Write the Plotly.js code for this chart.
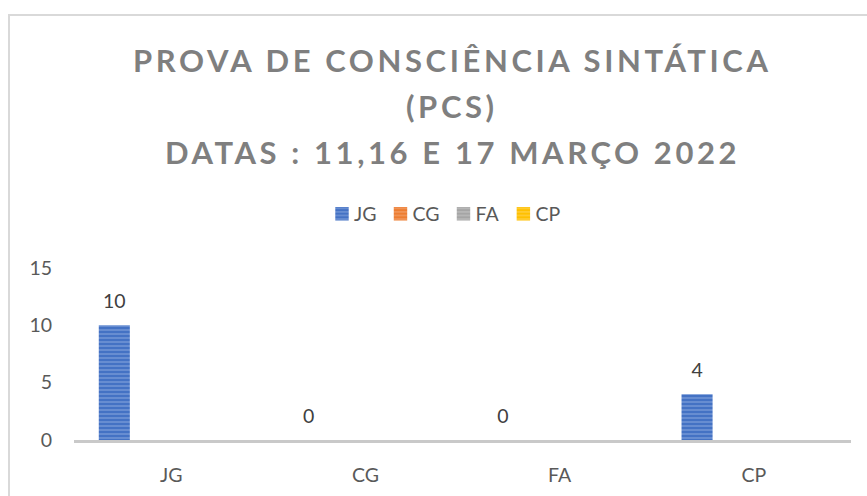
<!DOCTYPE html>
<html>
<head>
<meta charset="utf-8">
<script src="https://cdn.plot.ly/plotly-3.0.1.min.js"></script>
<style>
  html, body { margin: 0; padding: 0; background: #ffffff; overflow: hidden; }
  #wrap { position: relative; width: 867px; height: 496px; }
  #chart { position: absolute; left: 0; top: 0; width: 867px; height: 496px; }
  #frame { position: absolute; left: 8px; top: 14px; width: 900px; height: 520px;
           border: 2px solid #d9d9d9; pointer-events: none; box-sizing: border-box; }
  .annotation-text { letter-spacing: 3.6px; }
</style>
</head>
<body>
<div id="wrap">
  <div id="chart"></div>
  <div id="frame"></div>
</div>
<script>
// ---- data ----
const categories = ['JG', 'CG', 'FA', 'CP'];
const seriesNames = ['JG', 'CG', 'FA', 'CP'];
const valuesJG = [10, 0, 0, 4];
const valuesCG = [null, null, null, null];
const valuesFA = [null, null, null, null];
const valuesCP = [null, null, null, null];
const titleLines = ['PROVA DE CONSCIÊNCIA SINTÁTICA', '(PCS)', 'DATAS : 11,16 E 17 MARÇO 2022'];
const yTicks = [0, 5, 10, 15];

// ---- styling ----
const seriesValues = [valuesJG, valuesCG, valuesFA, valuesCP];
const colors = ['#4472C4', '#ED7D31', '#A5A5A5', '#FFC000'];
const stripe = ['#a9bfe8', '#f7bd96', '#d6d6d6', '#ffe08a'];
const FONT = 'Lato, "Open Sans", sans-serif';

const traces = seriesNames.map((name, i) => ({
  type: 'bar',
  name: name,
  x: categories,
  y: seriesValues[i],
  text: seriesValues[i].map(v => v === null ? '' : String(v)),
  textposition: 'outside',
  textfont: { family: FONT, size: 19.5, color: '#404040' },
  cliponaxis: false,
  marker: {
    color: colors[i],
    line: { width: 0 },
    pattern: { shape: '-', fillmode: 'overlay', fgcolor: stripe[i], size: 4, solidity: 0.35 }
  },
  hoverinfo: 'skip'
}));

// plot area geometry
const L = 74, R = 16, T = 268, B = 56, H = 496, W = 867;
const plotH = H - T - B, plotW = W - L - R;
const toPaperY = py => (H - B - py) / plotH;
const toPaperX = px => (px - L) / plotW;
const lineCentersPx = [60, 106, 152];

const annotations = titleLines.map((t, i) => ({
  text: '<b>' + t + '</b>',
  xref: 'paper', yref: 'paper',
  x: toPaperX(452), y: toPaperY(lineCentersPx[i]),
  xanchor: 'center', yanchor: 'middle',
  showarrow: false,
  font: { family: FONT, size: 31, color: '#7f7f7f' }
}));

const layout = {
  width: W, height: H,
  margin: { l: L, r: R, t: T, b: B, pad: 0 },
  paper_bgcolor: '#ffffff',
  plot_bgcolor: '#ffffff',
  barmode: 'group',
  bargap: 0.22,
  bargroupgap: 0.18,
  showlegend: true,
  legend: {
    orientation: 'h',
    xref: 'container', yref: 'container',
    x: 449 / W, y: 1 - 214 / H,
    xanchor: 'center', yanchor: 'middle',
    font: { family: FONT, size: 19.5, color: '#595959' },
    itemwidth: 30,
    tracegroupgap: 0,
    traceorder: 'normal',
    itemclick: false
  },
  xaxis: {
    type: 'category',
    showgrid: false,
    showline: true,
    linecolor: '#c9c9c9',
    linewidth: 3,
    ticks: '',
    ticklabelstandoff: 16,
    zeroline: false,
    tickfont: { family: FONT, size: 19.5, color: '#595959' }
  },
  yaxis: {
    range: [0, 15],
    tickvals: yTicks,
    ticktext: yTicks.map(String),
    showgrid: false,
    showline: false,
    zeroline: false,
    ticks: '',
    ticklabelstandoff: 21,
    tickfont: { family: FONT, size: 19.5, color: '#595959' }
  },
  annotations: annotations,
  hovermode: false
};

function parseTranslate(s) {
  const m = /translate\(\s*([-\d.e]+)[ ,]*([-\d.e]*)\s*\)/.exec(s || '');
  return m ? [parseFloat(m[1]), parseFloat(m[2] || '0')] : [0, 0];
}

Plotly.newPlot('chart', traces, layout, { displayModeBar: false, staticPlot: true }).then(() => {
  // data labels sit a little higher above the bars
  document.querySelectorAll('.bartext').forEach(t => {
    const tr = t.getAttribute('transform') || '';
    t.setAttribute('transform', tr + ' translate(0,-10)');
  });
  // tighter legend entries (Excel-like)
  const items = document.querySelectorAll('.legend .traces');
  const step = 9, n = items.length;
  items.forEach((g, i) => {
    const [x, y] = parseTranslate(g.getAttribute('transform'));
    g.setAttribute('transform', 'translate(' + (x - step * i + step * (n - 1) / 2 - 9) + ',' + y + ')');
    g.querySelectorAll('.legendpoints path').forEach(p => {
      p.setAttribute('transform', 'translate(28,0) scale(1.12)');
    });
  });
});
</script>
</body>
</html>
